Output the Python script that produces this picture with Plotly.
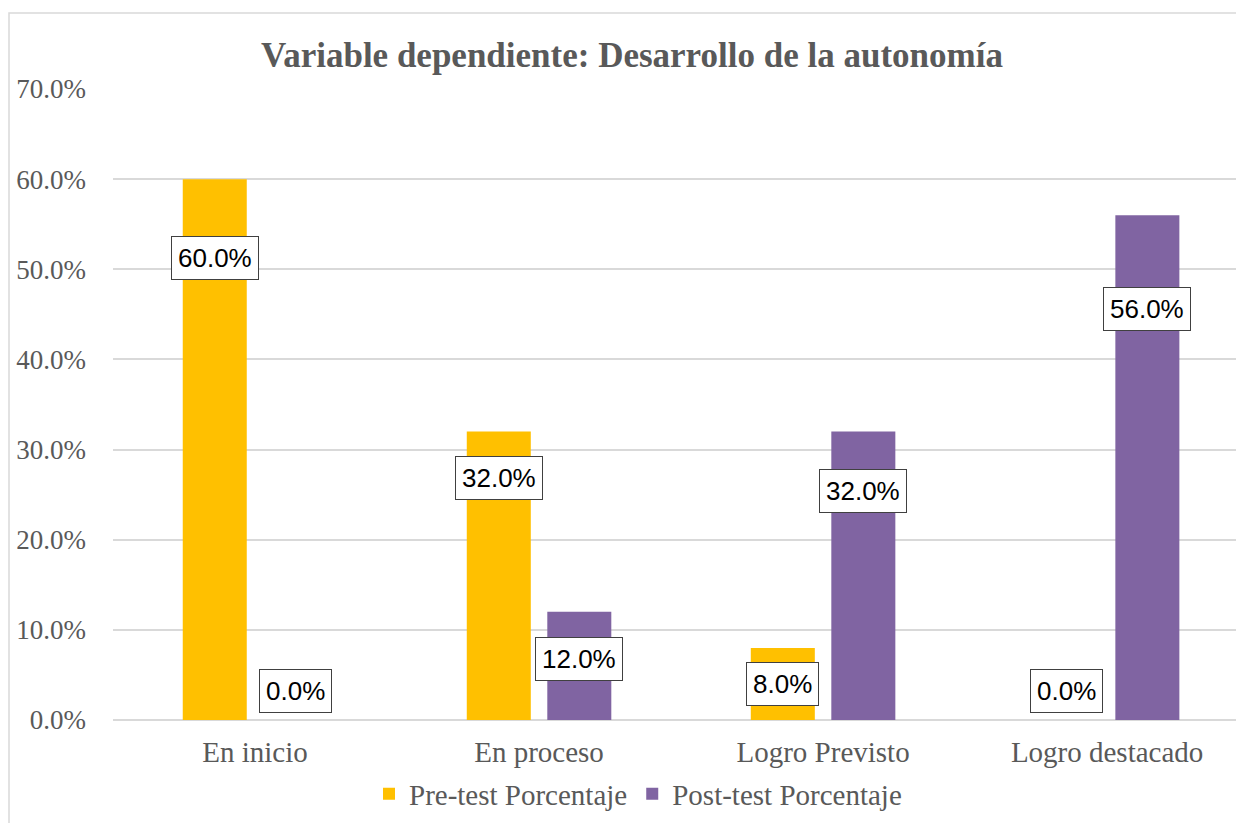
import plotly.graph_objects as go

categories = ["En inicio", "En proceso", "Logro Previsto", "Logro destacado"]
pre_test = [0.60, 0.32, 0.08, 0.00]
post_test = [0.00, 0.12, 0.32, 0.56]
series_names = ["Pre-test Porcentaje", "Post-test Porcentaje"]
title_text = "Variable dependiente: Desarrollo de la autonomía"
y_ticks = [0, 0.1, 0.2, 0.3, 0.4, 0.5, 0.6, 0.7]

# label placement (pixel shift from the bar top, positive = down)
pre_label_shift = [79, 46, 36, -29]
post_label_shift = [-29, 47, 59, 94]

# page body has an 8px margin, so the figure is drawn 8px right/down
W, H = 1236, 815
L, T, B = 105, 81, 103
PW, PH = W - L, H - T - B
GRAY = "#595959"
GRID = "#D9D9D9"
SERIF = "Liberation Serif, Times New Roman, serif"
SANS = "Liberation Sans, Arial, sans-serif"

fig = go.Figure()
fig.add_trace(go.Bar(x=categories, y=pre_test, name=series_names[0],
                     marker=dict(color="#FFC000", line=dict(width=0))))
fig.add_trace(go.Bar(x=categories, y=post_test, name=series_names[1],
                     marker=dict(color="#8064A2", line=dict(width=0))))

band = PW / 3.982
slot_off = band * (1 - 0.433) / 4

annotations = []
for vals, shifts, sgn in ((pre_test, pre_label_shift, -1), (post_test, post_label_shift, 1)):
    for c, v, s in zip(categories, vals, shifts):
        annotations.append(dict(
            x=c, y=v, xref="x", yref="y", xshift=sgn * slot_off, yshift=-s,
            text=f"{v*100:.1f}%", showarrow=False, xanchor="center", yanchor="middle",
            font=dict(family=SANS, size=26, color="#000000"),
            bgcolor="#FFFFFF", bordercolor="#404040", borderwidth=1, borderpad=6))

fig.update_layout(
    width=W, height=H,
    margin=dict(l=L, r=0, t=T, b=B, pad=0),
    paper_bgcolor="#FFFFFF", plot_bgcolor="#FFFFFF",
    barmode="group", bargap=0.433, bargroupgap=0.205,
    title=dict(text=f"<b>{title_text}</b>", x=624 / W, xref="container", xanchor="center",
               y=1 - 47 / H, yref="container", yanchor="middle",
               font=dict(family=SERIF, size=35, color=GRAY)),
    xaxis=dict(range=[-0.5, 3.482], showgrid=False, showline=False, zeroline=False,
               tickfont=dict(family=SERIF, size=29, color=GRAY), ticks="", ticklabelstandoff=12),
    yaxis=dict(range=[0, 0.7], tickvals=y_ticks, tickformat=".1%", showgrid=True,
               gridcolor=GRID, gridwidth=1.5, zeroline=True, zerolinecolor=GRID, zerolinewidth=1.5,
               showline=False, ticks="",
               tickfont=dict(family=SERIF, size=27, color=GRAY), ticklabelstandoff=26),
    legend=dict(orientation="h", x=(630 - L) / PW, xanchor="center", y=(712 - 786) / PH,
                yanchor="middle", font=dict(family=SERIF, size=29, color=GRAY),
                itemclick=False, tracegroupgap=0, itemwidth=30, bgcolor="rgba(0,0,0,0)"),
    annotations=annotations,
    shapes=[dict(type="rect", xref="paper", yref="paper",
                 x0=(1 - L) / PW, x1=1.2, y0=-0.5, y1=1 + (T - 5) / PH,
                 line=dict(color=GRID, width=1.5), fillcolor="rgba(0,0,0,0)", layer="below")],
)

fig.write_html("out.html")
